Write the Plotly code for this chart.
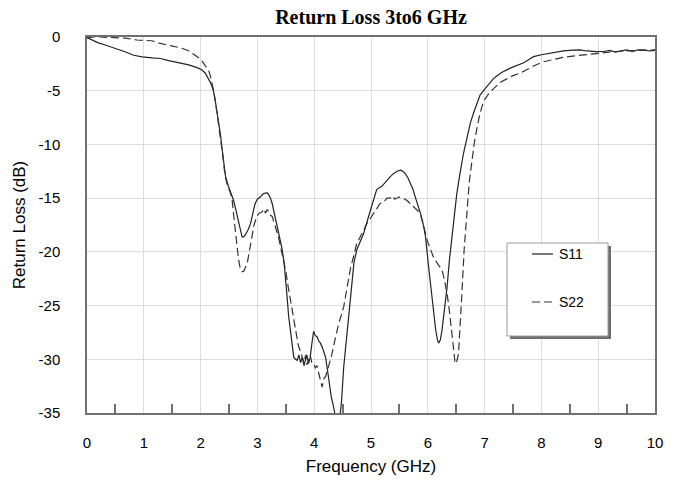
import plotly.graph_objects as go

# ---------------- data ----------------
s11_freq = [0.0, 0.1, 0.2, 0.32, 0.5, 0.67, 0.82, 0.97, 1.15, 1.29, 1.44, 1.64, 1.79, 1.94, 2.02, 2.08,
            2.13, 2.17, 2.2, 2.23, 2.26, 2.29, 2.32, 2.35, 2.38, 2.41, 2.44, 2.49, 2.53, 2.58, 2.63,
            2.67, 2.70, 2.73, 2.76, 2.79, 2.84, 2.88, 2.92, 2.96, 3.0, 3.05, 3.1, 3.14, 3.17, 3.2,
            3.23, 3.26, 3.3, 3.34, 3.38, 3.43, 3.47, 3.49, 3.52, 3.55, 3.58, 3.61, 3.64, 3.67, 3.70,
            3.73, 3.76, 3.79, 3.82, 3.84, 3.87, 3.90, 3.93, 3.96, 3.99, 4.02, 4.05, 4.08, 4.11, 4.15,
            4.2, 4.25, 4.30, 4.34, 4.38, 4.44, 4.48, 4.52, 4.55, 4.58, 4.61, 4.64, 4.67, 4.70, 4.75,
            4.81, 4.87, 4.93, 4.99, 5.05, 5.1, 5.19, 5.28, 5.34, 5.4, 5.46, 5.52, 5.56, 5.6, 5.65,
            5.69, 5.74, 5.78, 5.82, 5.87, 5.93, 5.96, 6.01, 6.04, 6.07, 6.1, 6.14, 6.17, 6.19, 6.22,
            6.25, 6.29, 6.34, 6.38, 6.43, 6.47, 6.51, 6.57, 6.63, 6.69, 6.75, 6.81, 6.87, 6.92, 7.01,
            7.1, 7.16, 7.22, 7.3, 7.45, 7.55, 7.69, 7.78, 7.86, 8.0, 8.16, 8.3, 8.39, 8.55, 8.68,
            8.8, 8.97, 9.1, 9.2, 9.3, 9.39, 9.5, 9.6, 9.7, 9.8, 9.9, 10.0]
s11_db = [-0.05, -0.3, -0.55, -0.74, -1.05, -1.37, -1.7, -1.85, -1.95, -2.0, -2.2, -2.4, -2.6, -2.85,
          -3.05, -3.35, -3.8, -4.2, -4.6, -5.1, -6.0, -6.95, -8.0, -9.1, -10.5, -11.9, -13.0, -13.9,
          -14.4, -15.2, -16.3, -17.35, -18.1, -18.6, -18.6, -18.4, -17.9, -17.35, -16.4, -15.5, -15.1,
          -14.9, -14.6, -14.55, -14.5, -14.7, -15.0, -15.5, -16.4, -17.35, -18.3, -19.6, -21.0, -22.0,
          -24.0, -26.0, -27.3, -28.5, -29.8, -30.0, -30.1, -29.6, -30.3, -29.8, -30.6, -30.2, -29.6,
          -30.4, -29.8, -28.5, -27.4, -27.8, -27.9, -28.3, -28.5, -29.0, -29.8, -31.6, -33.5, -34.4,
          -35.5, -36.0, -34.0, -30.7, -29.0, -27.6, -25.8, -23.9, -22.4, -21.0, -19.8, -19.0, -18.3,
          -17.2, -16.1, -14.9, -14.2, -13.9, -13.3, -13.0, -12.7, -12.5, -12.4, -12.5, -12.7, -13.1,
          -13.6, -14.2, -14.9, -15.5, -16.4, -17.7, -18.6, -21.2, -22.6, -24.2, -25.7, -27.3, -28.2,
          -28.5, -28.2, -27.3, -25.5, -23.25, -20.8, -18.3, -16.4, -14.6, -12.6, -10.8, -9.4, -8.0,
          -7.0, -6.2, -5.4, -4.8, -4.2, -3.85, -3.6, -3.3, -2.9, -2.7, -2.4, -2.1, -1.83, -1.65, -1.5,
          -1.4, -1.3, -1.22, -1.2, -1.3, -1.37, -1.35, -1.25, -1.4, -1.3, -1.2, -1.35, -1.2, -1.2,
          -1.3, -1.25]

s22_freq = [0.0, 0.1, 0.23, 0.47, 0.67, 0.88, 1.14, 1.29, 1.47, 1.64, 1.78, 1.88, 1.96, 2.02, 2.08,
            2.14, 2.17, 2.2, 2.23, 2.26, 2.3, 2.35, 2.39, 2.43, 2.47, 2.51, 2.55, 2.58, 2.61, 2.64,
            2.67, 2.70, 2.73, 2.76, 2.79, 2.82, 2.86, 2.9, 2.94, 2.99, 3.03, 3.08, 3.12, 3.14, 3.17,
            3.2, 3.23, 3.26, 3.3, 3.33, 3.37, 3.41, 3.46, 3.5, 3.54, 3.58, 3.62, 3.66, 3.69, 3.72,
            3.76, 3.79, 3.82, 3.85, 3.87, 3.9, 3.93, 3.96, 3.99, 4.02, 4.05, 4.08, 4.11, 4.14, 4.17,
            4.2, 4.25, 4.3, 4.34, 4.38, 4.43, 4.47, 4.52, 4.56, 4.6, 4.64, 4.69, 4.75, 4.84, 4.93,
            5.0, 5.08, 5.16, 5.22, 5.28, 5.34, 5.38, 5.42, 5.49, 5.56, 5.63, 5.69, 5.75, 5.81, 5.87,
            5.93, 5.98, 6.03, 6.1, 6.16, 6.22, 6.25, 6.28, 6.31, 6.34, 6.38, 6.43, 6.46, 6.48, 6.51,
            6.54, 6.57, 6.6, 6.64, 6.69, 6.73, 6.78, 6.82, 6.87, 6.92, 6.98, 7.07, 7.16, 7.28, 7.39,
            7.5, 7.63, 7.75, 7.9, 8.04, 8.2, 8.39, 8.55, 8.74, 8.9, 9.1, 9.3, 9.5, 9.7, 9.85, 10.0]
s22_db = [-0.1, 0.0, 0.0, -0.02, -0.1, -0.28, -0.35, -0.6, -0.8, -1.0, -1.25, -1.6, -1.9, -2.2, -2.6,
          -3.1, -3.6, -4.2, -5.0, -6.0, -7.5, -9.1, -11.0, -12.9, -13.8, -14.3, -14.9, -16.5, -18.0,
          -19.5, -20.8, -21.6, -21.85, -21.8, -21.5, -21.1, -19.9, -18.6, -17.5, -16.7, -16.4, -16.3,
          -16.0, -16.4, -16.1, -16.2, -16.6, -16.7, -17.4, -18.0, -18.6, -19.6, -20.8, -21.8, -23.2,
          -24.5, -25.7, -26.9, -27.9, -28.7, -29.3, -29.8, -30.3, -29.6, -30.5, -30.1, -29.6, -30.4,
          -30.4, -30.8, -30.6, -31.3, -32.0, -32.6, -31.8, -31.6, -30.7, -29.8, -28.8, -27.8, -26.7,
          -26.0, -25.1, -23.9, -22.6, -21.5, -20.5, -19.2, -18.3, -17.35, -16.8, -16.1, -15.5, -15.4,
          -15.0, -15.0, -14.8, -15.1, -14.9, -15.0, -15.2, -15.5, -15.8, -16.1, -16.5, -17.6, -18.8,
          -19.6, -20.5, -21.0, -21.4, -21.7, -22.3, -23.0, -23.9, -25.5, -27.6, -29.3, -30.4, -30.2,
          -29.5, -27.0, -23.9, -19.8, -16.1, -13.5, -11.45, -9.8, -8.35, -7.1, -6.0, -5.3, -4.8, -4.2,
          -3.9, -3.6, -3.35, -3.0, -2.6, -2.3, -2.1, -1.89, -1.78, -1.68, -1.55, -1.43, -1.35, -1.3,
          -1.25, -1.22, -1.2]

x_ticks = [0, 1, 2, 3, 4, 5, 6, 7, 8, 9, 10]
y_ticks = [0, -5, -10, -15, -20, -25, -30, -35]
series_names = ["S11", "S22"]
title_text = "Return Loss 3to6 GHz"
x_title = "Frequency (GHz)"
y_title = "Return Loss (dB)"

# ---------------- figure ----------------
W, H = 676, 481
L, R, T, B = 87, 21, 37, 68

fig = go.Figure()
fig.add_trace(go.Scatter(x=s11_freq, y=s11_db, mode="lines", name=series_names[0],
                         line=dict(color="#222222", width=1.2, dash="solid"), showlegend=False))
fig.add_trace(go.Scatter(x=s22_freq, y=s22_db, mode="lines", name=series_names[1],
                         line=dict(color="#333333", width=1.2, dash="8px,4px"), showlegend=False))

sans = "Liberation Sans, Arial, sans-serif"
axis_font = dict(family=sans, size=15, color="#000")

fig.update_xaxes(range=[0, 10], tickvals=x_ticks, ticktext=[str(v) for v in x_ticks],
                 automargin=False,
                 showgrid=True, gridcolor="#dcdcdc", gridwidth=1.3, zeroline=False,
                 showline=True, linecolor="#707070", linewidth=1.5, mirror=True,
                 ticks="outside", ticklen=15, tickcolor="rgba(0,0,0,0)", tickfont=axis_font,
                 minor=dict(tick0=0.5, dtick=1, ticks="inside", ticklen=9, tickwidth=1.5,
                            tickcolor="#707070", showgrid=False),
                 title=dict(text=x_title, font=dict(family=sans, size=17, color="#000"),
                            standoff=10))
fig.update_yaxes(range=[-35, 0], tickvals=y_ticks, ticktext=[str(v) for v in y_ticks],
                 automargin=False,
                 showgrid=True, gridcolor="#dcdcdc", gridwidth=1.3, zeroline=False,
                 showline=True, linecolor="#707070", linewidth=1.5, mirror=True,
                 ticks="outside", ticklen=22, tickcolor="rgba(0,0,0,0)", tickfont=axis_font,
                 title=dict(text=y_title, font=dict(family=sans, size=17, color="#000"),
                            standoff=9))

# manual legend (paper coordinates)
pw, ph = W - L - R, H - T - B
def px(x):
    return (x - L) / pw
def py(y):
    return (H - B - y) / ph

bx0, bx1, by0, by1 = 507, 608, 243, 336
shapes = [
    dict(type="rect", xref="paper", yref="paper", x0=px(bx0 + 3), x1=px(bx1 + 3), y0=py(by1 + 3), y1=py(by0 + 3),
         fillcolor="#6e6e6e", line=dict(width=0), layer="above"),
    dict(type="rect", xref="paper", yref="paper", x0=px(bx0), x1=px(bx1), y0=py(by1), y1=py(by0),
         fillcolor="white", line=dict(color="#9a9a9a", width=1), layer="above"),
    dict(type="line", xref="paper", yref="paper", x0=px(532), x1=px(553), y0=py(254), y1=py(254),
         line=dict(color="#222222", width=1.2), layer="above"),
    dict(type="line", xref="paper", yref="paper", x0=px(532), x1=px(553), y0=py(302), y1=py(302),
         line=dict(color="#333333", width=1.2, dash="8px,4px"), layer="above"),
]
annotations = [
    dict(xref="paper", yref="paper", x=px(557), y=py(254), text=series_names[0], showarrow=False,
         xanchor="left", yanchor="middle", font=dict(family=sans, size=14, color="#000")),
    dict(xref="paper", yref="paper", x=px(557), y=py(302), text=series_names[1], showarrow=False,
         xanchor="left", yanchor="middle", font=dict(family=sans, size=14, color="#000")),
]

fig.update_layout(
    width=W, height=H,
    margin=dict(l=L, r=R, t=T, b=B, pad=0),
    paper_bgcolor="white", plot_bgcolor="white",
    title=dict(text="<b>" + title_text + "</b>", x=0.5, xref="paper", y=1 - 17 / H, yref="container",
               yanchor="middle", xanchor="center",
               font=dict(family="Liberation Serif, Times New Roman, serif", size=20, color="#000")),
    shapes=shapes, annotations=annotations, showlegend=False,
)

fig.write_html("out.html", config={"displayModeBar": False},
               post_script="document.body.style.margin='0';document.body.style.padding='0';")
